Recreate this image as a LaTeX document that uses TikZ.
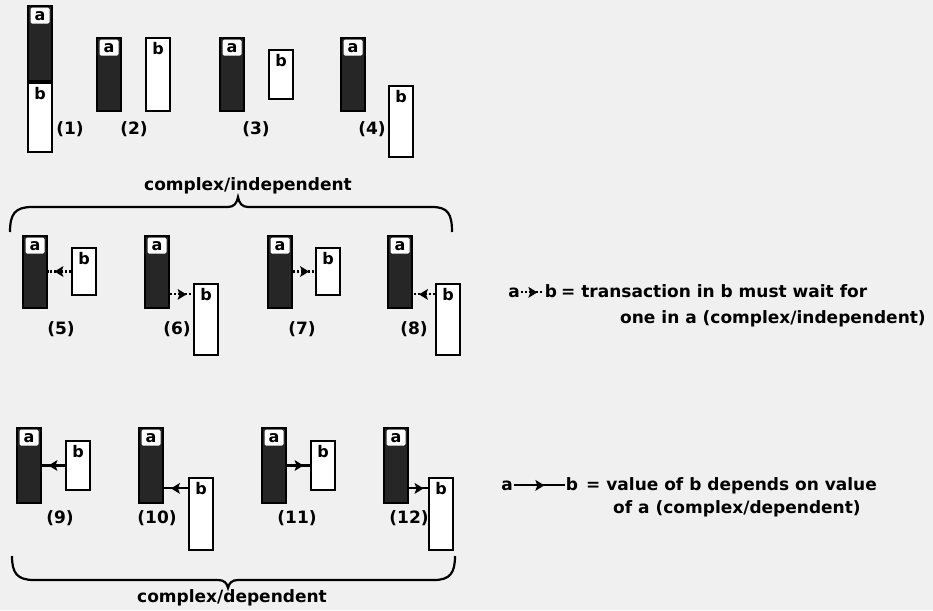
\documentclass[tikz,border=0pt]{standalone}
\usepackage{fontspec}
\setmainfont{DejaVu Sans}
\usepackage{tikz}
\usetikzlibrary{positioning,decorations.markings}

\newcommand{\figfont}{\bfseries\fontsize{17}{17}\selectfont}
\newcommand{\tagfont}{\bfseries\fontsize{16}{16}\selectfont}

\tikzset{
  abox/.style={draw, line width=2pt, fill=black!85, anchor=north west,
    inner sep=0pt, minimum width=24pt, minimum height=#1},
  bbox/.style={draw, line width=2pt, fill=white, anchor=north west,
    inner sep=0pt, minimum width=24pt, minimum height=#1},
  atag/.style={fill=white, rounded corners=1.5pt, inner sep=0pt,
    minimum width=19pt, minimum height=16pt, font=\tagfont},
  btag/.style={inner sep=0pt, font=\tagfont},
  num/.style={inner sep=1pt, font=\figfont},
  txt/.style={inner sep=1pt, font=\figfont},
  bracket/.style={line width=2.2pt},
  % filled head in the middle of a connector
  midarrow/.style={postaction={decorate}, decoration={markings,
    mark=at position 0.5 with {\fill (5pt,0pt) -- (-4pt,5.5pt) -- (-2pt,0pt)
      -- (-4pt,-5.5pt) -- cycle;}}},
  waitline/.style={line width=2.2pt, dash pattern=on 2pt off 1.8pt, midarrow},
  depline/.style={line width=2.2pt, midarrow},
}

\begin{document}
\begin{tikzpicture}[x=1pt,y=-1pt]
    \useasboundingbox[fill=black!6] (0,0) rectangle (933,610);

    % first row
    \node[abox=75pt] (a1) at (27,5) {};
    \node[bbox=69pt] (b1) at (27,82) {};
    \node[abox=73pt] (a2) at (96,37) {};
    \node[bbox=73pt] (b2) at (145,37) {};
    \node[abox=73pt] (a3) at (219,37) {};
    \node[bbox=49pt] (b3) at (268,49) {};
    \node[abox=73pt] (a4) at (340,37) {};
    \node[bbox=71pt] (b4) at (388,85) {};
    \foreach \i in {1,...,4} {
        \node[atag, below=2.5pt of a\i.north] (ta\i) {a};
        \node[btag, below=5pt of b\i.north] (tb\i) {b};
    }
    \node[num] (n1) at (70,129) {(1)};
    \node[num] (n2) at (134,129) {(2)};
    \node[num] (n3) at (256,129) {(3)};
    \node[num] (n4) at (372,129) {(4)};

    \node[txt] (ci) at (248,186) {complex/independent};
    \draw[bracket] (10,232) .. controls (10,214) and (15,207) .. (32,207) -- (228,207)
        .. controls (234,207) and (237,203) .. (238,197)
        .. controls (239,203) and (242,207) .. (248,207) -- (432,207)
        .. controls (448,207) and (452,214) .. (452,232);

    % second row
    \node[abox=72pt] (a5) at (22,235) {};
    \node[bbox=47pt] (b5) at (71,247) {};
    \node[abox=72pt] (a6) at (144,235) {};
    \node[bbox=71pt] (b6) at (193,283) {};
    \node[abox=72pt] (a7) at (267,235) {};
    \node[bbox=47pt] (b7) at (315,247) {};
    \node[abox=72pt] (a8) at (387,235) {};
    \node[bbox=71pt] (b8) at (435,283) {};

    % third row
    \node[abox=75pt] (a9) at (16,427) {};
    \node[bbox=49pt] (b9) at (65,440) {};
    \node[abox=75pt] (a10) at (138,427) {};
    \node[bbox=72pt] (b10) at (188,477) {};
    \node[abox=75pt] (a11) at (261,427) {};
    \node[bbox=49pt] (b11) at (310,440) {};
    \node[abox=75pt] (a12) at (383,427) {};
    \node[bbox=72pt] (b12) at (428,477) {};

    \foreach \i in {5,...,12} {
        \node[atag, below=2.5pt of a\i.north] (ta\i) {a};
        \node[btag, below=5pt of b\i.north] (tb\i) {b};
    }

    \draw[waitline] (b5.west) -- (a5.east |- b5.west);
    \draw[waitline] (a6.east |- tb6) -- (b6.west |- tb6);
    \draw[waitline] (a7.east |- b7.west) -- (b7.west);
    \draw[waitline] (b8.west |- tb8) -- (a8.east |- tb8);
    \draw[depline] (b9.west) -- (a9.east |- b9.west);
    \draw[depline] (b10.west |- tb10) -- (a10.east |- tb10);
    \draw[depline] (a11.east |- b11.west) -- (b11.west);
    \draw[depline] (a12.east |- tb12) -- (b12.west |- tb12);

    \node[num] (n5) at (61,329) {(5)};
    \node[num] (n6) at (177,329) {(6)};
    \node[num] (n7) at (302,329) {(7)};
    \node[num] (n8) at (414,329) {(8)};
    \node[num] (n9) at (60,518) {(9)};
    \node[num] (n10) at (157,518) {(10)};
    \node[num] (n11) at (297,518) {(11)};
    \node[num] (n12) at (409,518) {(12)};

    \draw[bracket] (12,556) .. controls (12,573) and (17,580) .. (34,580) -- (218,580)
        .. controls (224,580) and (227,583) .. (228,588)
        .. controls (229,583) and (232,580) .. (238,580) -- (434,580)
        .. controls (450,580) and (455,573) .. (455,556);
    \node[txt] (cd) at (232,598) {complex/dependent};

    % legend
    \node[txt, anchor=base] (ka) at (514,297) {a};
    \node[txt, anchor=base] (kb) at (551,297) {b};
    \draw[waitline] (ka.east) -- (kb.west |- ka.east);
    \node[txt, anchor=base west] (kt1) at (560,297) {= transaction in b must wait for};
    \node[txt, anchor=base west] (kt2) at (619,323) {one in a (complex/independent)};

    \node[txt, anchor=base] (da) at (507,490) {a};
    \node[txt, anchor=base] (db) at (572,490) {b};
    \draw[depline] (da.east) -- (db.west |- da.east);
    \node[txt, anchor=base west] (dt1) at (585,490) {= value of b depends on value};
    \node[txt, anchor=base west] (dt2) at (612,513) {of a (complex/dependent)};
\end{tikzpicture}
\end{document}
